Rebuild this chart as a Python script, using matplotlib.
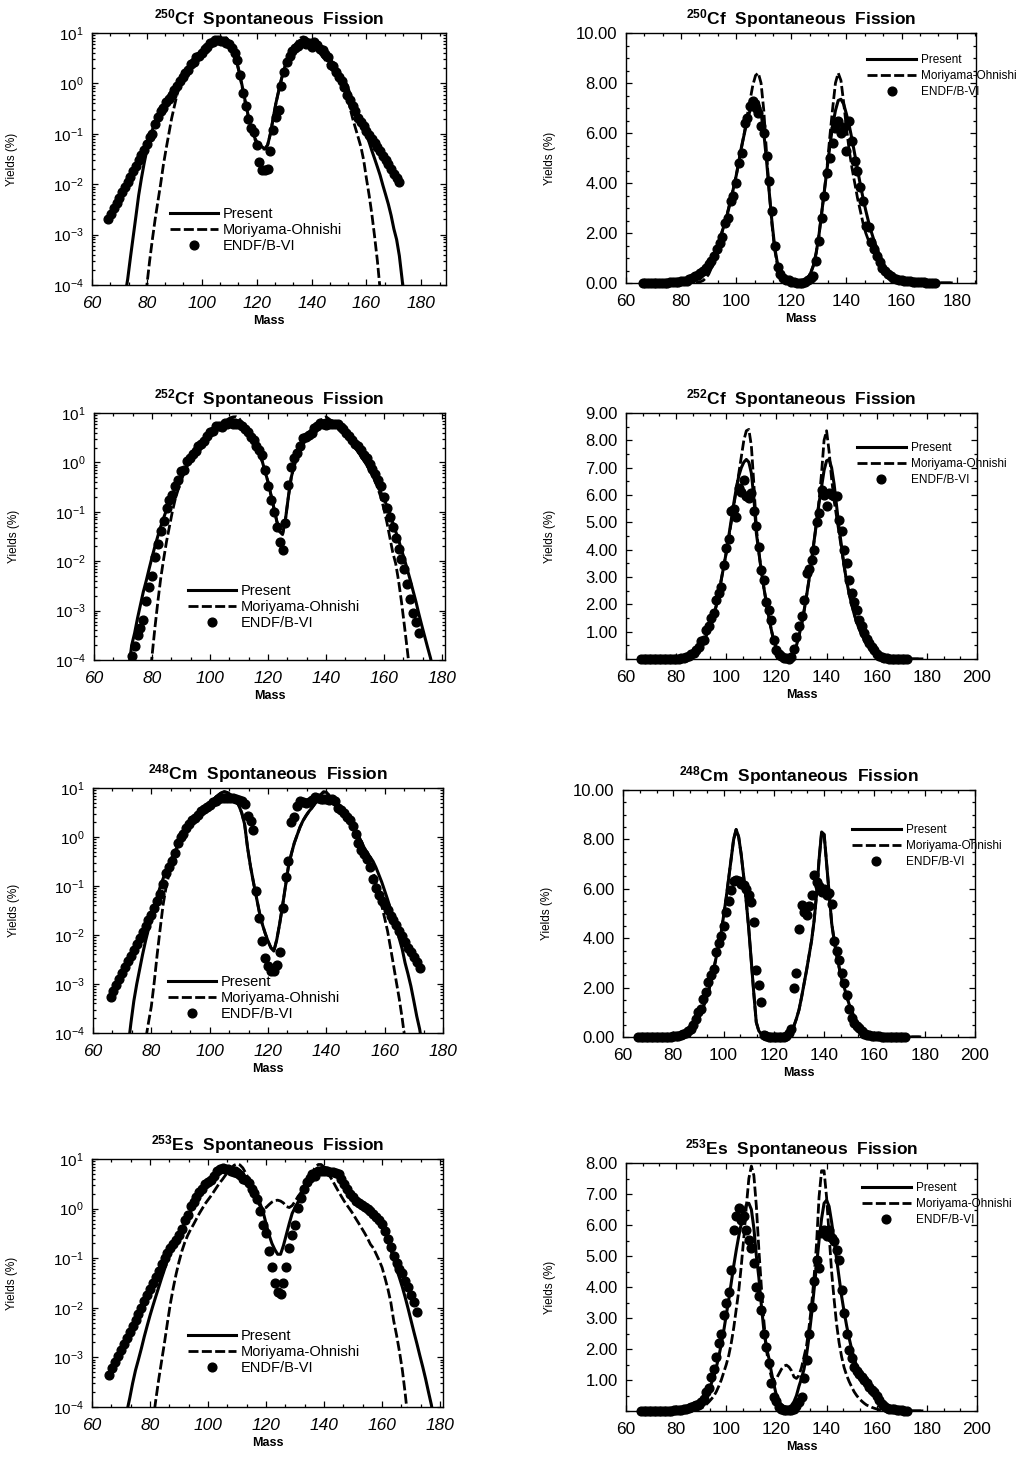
import numpy as np
import matplotlib
matplotlib.use("Agg")
import matplotlib.pyplot as plt
from matplotlib.ticker import AutoMinorLocator, MultipleLocator, LogLocator, NullFormatter

plt.rcParams["font.family"] = "Liberation Sans"
plt.rcParams["mathtext.fontset"] = "custom"
plt.rcParams["mathtext.rm"] = "Liberation Sans"
plt.rcParams["mathtext.bf"] = "Liberation Sans:bold"
plt.rcParams["mathtext.it"] = "Liberation Sans:italic"

# masses: curves are tabulated 66..178, ENDF/B-VI points 66..172
mass_curve = np.arange(66, 179)
mass_endf = np.arange(66, 173)

# ---------------- Cf-250 ----------------
cf250_present = [
    1e-7, 3e-7, 1e-6, 3e-6, 1e-5, 2.5e-5, 6e-5, 1.3e-4, 3.5e-4, 9e-4,
    2.3e-3, 6e-3, 0.013, 0.026, 0.048, 0.08, 0.12, 0.17, 0.23, 0.3,
    0.38, 0.47, 0.58, 0.7, 0.85, 1.0, 1.2, 1.45, 1.75, 2.1,
    2.45, 2.85, 3.3, 3.8, 4.3, 4.9, 5.5, 6.0, 6.5, 6.9,
    7.2, 7.3, 7.25, 6.8, 6.0, 4.9, 3.6, 2.4, 1.4, 0.75,
    0.4, 0.22, 0.13, 0.09, 0.07, 0.06, 0.055, 0.05, 0.06, 0.1,
    0.2, 0.4, 0.7, 1.2, 1.9, 2.8, 3.7, 4.6, 5.5, 6.3,
    6.9, 7.3, 7.35, 7.15, 6.75, 6.3, 5.75, 5.15, 4.55, 3.95,
    3.4, 2.9, 2.45, 2.05, 1.7, 1.4, 1.12, 0.9, 0.62, 0.46,
    0.34, 0.25, 0.18, 0.13, 0.095, 0.068, 0.046, 0.032, 0.022, 0.015,
    0.0095, 0.0062, 0.004, 0.0024, 0.0013, 8e-4, 3.8e-4, 1.3e-4, 4e-5, 1.2e-5,
    3e-6, 1e-6, 3e-7]
cf250_mo = [
    1e-9, 1e-9, 1e-9, 1e-9, 1e-9, 1e-9, 1e-9, 1e-9, 1e-8, 1e-8,
    1e-7, 1e-6, 5e-6, 2.5e-5,
    1e-4, 3e-4, 8e-4, 2e-3, 4.5e-3, 0.01, 0.024, 0.05, 0.1, 0.2,
    0.35, 0.6, 0.95, 1.3, 1.7, 2.1, 2.5, 2.9, 3.35, 3.8,
    4.3, 4.85, 5.45, 6.05, 6.7, 7.3, 7.9, 8.3, 8.4, 8.0,
    6.9, 5.2, 3.6, 2.3, 1.3, 0.7, 0.38, 0.21, 0.12, 0.085,
    0.065, 0.055, 0.05, 0.05, 0.06, 0.1, 0.2, 0.4, 0.7, 1.2,
    1.9, 2.8, 3.7, 4.7, 5.9, 7.0, 8.0, 8.4, 8.1, 7.2,
    6.2, 5.3, 4.6, 4.0, 3.4, 2.9, 2.4, 2.0, 1.7, 1.45,
    1.25, 1.05, 0.85, 0.55, 0.33, 0.2, 0.13, 0.085, 0.055, 0.03,
    0.013, 6e-3, 2.5e-3, 9e-4, 3e-4, 8e-5, 2e-5, 5e-6, 1e-6, 1e-7,
    1e-9, 1e-9, 1e-9, 1e-9, 1e-9, 1e-9, 1e-9, 1e-9, 1e-9]
cf250_endf = [
    0.002, 0.0026, 0.0033, 0.0042, 0.0054, 0.0069, 0.0088, 0.011, 0.014, 0.018,
    0.023, 0.03, 0.038, 0.048, 0.062, 0.085, 0.1, 0.16, 0.22, 0.28,
    0.32, 0.42, 0.5, 0.6, 0.75, 0.9, 1.1, 1.35, 1.6, 1.85,
    2.4, 2.6, 3.3, 3.5, 4.0, 4.8, 5.2, 6.4, 6.6, 7.1,
    7.3, 7.0, 6.8, 6.3, 6.0, 5.1, 4.1, 2.9, 1.5, 0.65,
    0.35, 0.2, 0.13, 0.11, 0.06, 0.027, 0.019, 0.019, 0.02, 0.045,
    0.12, 0.22, 0.3, 0.9, 1.7, 2.6, 3.5, 4.4, 5.0, 5.6,
    6.2, 6.5, 6.0, 6.25, 5.3, 6.5, 5.7, 4.9, 4.5, 3.85,
    3.3, 2.3, 2.25, 1.65, 1.35, 1.1, 0.85, 0.6, 0.47, 0.36,
    0.28, 0.21, 0.17, 0.14, 0.115, 0.095, 0.08, 0.066, 0.055, 0.045,
    0.037, 0.03, 0.025, 0.02, 0.016, 0.013, 0.011]

# ---------------- Cf-252 ----------------
cf252_present = [
    1e-9, 1e-8, 1e-7, 5e-7, 2e-6, 1.5e-5, 7e-5, 2e-4, 3.5e-4, 7e-4,
    1.3e-3, 2.4e-3, 4e-3, 7e-3, 0.012, 0.02, 0.032, 0.05, 0.075, 0.11,
    0.16, 0.22, 0.3, 0.39, 0.5, 0.63, 0.85, 1.05, 1.3, 1.6,
    1.95, 2.4, 2.9, 3.4, 3.9, 4.5, 5.1, 5.7, 6.25, 6.7,
    7.0, 7.2, 7.3, 7.2, 6.8, 5.9, 4.6, 3.9, 3.2, 2.6,
    2.05, 1.5, 1.05, 0.65, 0.4, 0.22, 0.12, 0.065, 0.04, 0.035,
    0.07, 0.2, 0.5, 0.85, 1.25, 1.75, 2.3, 2.9, 3.6, 4.3,
    5.0, 5.7, 6.3, 6.9, 7.25, 7.3, 7.0, 6.4, 5.6, 4.8,
    4.1, 3.4, 2.85, 2.4, 2.0, 1.65, 1.35, 1.1, 0.9, 0.7,
    0.55, 0.42, 0.32, 0.24, 0.18, 0.13, 0.09, 0.06, 0.04, 0.027,
    0.017, 0.011, 0.0068, 0.0042, 0.0025, 0.0015, 8.5e-4, 5e-4, 3e-4, 1.8e-4,
    1.1e-4, 6e-5, 3e-5]
cf252_mo = [
    1e-9, 1e-9, 1e-9, 1e-9, 1e-9, 1e-9, 1e-9, 1e-9, 1e-9, 1e-9,
    1e-8, 1e-7, 2e-6, 3e-5,
    1.2e-4, 4.5e-4, 1.5e-3, 4.5e-3, 0.011, 0.025, 0.05, 0.1, 0.18, 0.28,
    0.42, 0.6, 0.82, 1.05, 1.3, 1.6, 1.95, 2.4, 2.9, 3.4,
    3.9, 4.45, 5.0, 5.6, 6.2, 6.8, 7.4, 8.0, 8.35, 8.4,
    7.8, 6.4, 4.8, 3.9, 3.2, 2.6, 2.05, 1.5, 1.05, 0.65,
    0.4, 0.22, 0.12, 0.065, 0.04, 0.035, 0.07, 0.2, 0.5, 0.85,
    1.25, 1.75, 2.3, 2.9, 3.6, 4.3, 5.0, 5.8, 6.8, 8.0,
    8.35, 7.6, 6.6, 5.8, 5.2, 4.6, 4.0, 3.4, 2.85, 2.4,
    2.0, 1.65, 1.35, 1.1, 0.9, 0.7, 0.55, 0.4, 0.28, 0.19,
    0.11, 0.06, 0.03, 0.015, 0.009, 0.004, 1.5e-3, 5e-4, 1.6e-4, 5e-5,
    1e-9, 1e-9, 1e-9, 1e-9, 1e-9, 1e-9, 1e-9, 1e-9, 1e-9]
cf252_endf = [
    1e-6, 2e-6, 4e-6, 8e-6, 1.5e-5, 3e-5, 6e-5, 1.2e-4, 1.9e-4, 3.2e-4,
    4.5e-4, 6.5e-4, 1.6e-3, 3e-3, 5e-3, 0.012, 0.022, 0.04, 0.065, 0.12,
    0.17, 0.22, 0.34, 0.45, 0.66, 0.7, 1.05, 1.2, 1.5, 1.68,
    2.17, 2.4, 2.65, 3.45, 4.06, 4.4, 5.4, 5.5, 5.2, 6.26,
    6.1, 6.56, 5.95, 5.9, 6.07, 5.4, 4.85, 4.1, 3.27, 2.9,
    2.1, 1.8, 1.44, 0.7, 0.34, 0.17, 0.1, 0.05, 0.025, 0.017,
    0.06, 0.35, 0.8, 1.2, 1.56, 2.17, 3.15, 3.3, 3.63, 4.0,
    5.0, 5.35, 6.2, 6.0, 5.6, 6.07, 6.0, 5.95, 5.95, 5.1,
    4.67, 4.0, 3.5, 2.9, 2.4, 2.1, 1.8, 1.44, 1.2, 0.95,
    0.75, 0.59, 0.45, 0.34, 0.2, 0.12, 0.08, 0.05, 0.03, 0.018,
    0.011, 0.007, 0.0035, 0.0017, 9e-4, 6e-4, 3.5e-4]

# ---------------- Cm-248 ----------------
cm248_present = [
    1e-9, 1e-8, 1e-7, 5e-7, 3e-6, 1e-5, 5e-5, 1.6e-4, 4.5e-4, 1e-3,
    2e-3, 4e-3, 7.5e-3, 0.013, 0.022, 0.037, 0.06, 0.095, 0.14, 0.2,
    0.28, 0.38, 0.5, 0.65, 0.82, 1.0, 1.25, 1.5, 1.85, 2.25,
    2.7, 3.2, 3.7, 4.2, 4.9, 5.6, 6.4, 7.2, 8.0, 8.4,
    8.1, 7.4, 6.5, 5.5, 4.4, 3.1, 1.8, 0.6, 0.25, 0.12,
    0.06, 0.03, 0.017, 0.011, 0.0075, 0.0055, 0.0047, 0.008, 0.017, 0.04,
    0.1, 0.25, 0.45, 0.75, 1.1, 1.6, 2.15, 2.7, 3.3, 3.9,
    4.7, 5.8, 7.2, 8.3, 8.2, 7.0, 5.8, 4.6, 3.9, 3.3,
    2.8, 2.35, 2.0, 1.65, 1.3, 1.05, 0.8, 0.6, 0.48, 0.39,
    0.32, 0.24, 0.17, 0.12, 0.08, 0.053, 0.034, 0.022, 0.014, 0.0085,
    0.0052, 0.0027, 0.0016, 9e-4, 4.5e-4, 2.2e-4, 1.2e-4, 5e-5, 1.5e-5, 4e-6,
    1e-6, 2e-7, 1e-8]
cm248_mo = [
    1e-9, 1e-9, 1e-9, 1e-9, 1e-9, 1e-9, 1e-9, 1e-9, 1e-9, 1e-9,
    1e-7, 5e-6, 7e-5, 1.6e-4, 3.5e-4, 1.1e-3, 4e-3, 0.013, 0.04, 0.09,
    0.17, 0.29, 0.44, 0.65, 0.82, 1.0, 1.25, 1.5, 1.85, 2.25,
    2.7, 3.2, 3.7, 4.2, 4.9, 5.6, 6.4, 7.2, 8.0, 8.4,
    8.1, 7.4, 6.5, 5.5, 4.4, 3.1, 1.8, 0.6, 0.25, 0.12,
    0.06, 0.03, 0.017, 0.011, 0.0075, 0.0055, 0.0047, 0.008, 0.017, 0.04,
    0.1, 0.25, 0.45, 0.75, 1.1, 1.6, 2.15, 2.7, 3.3, 3.9,
    4.7, 5.8, 7.2, 8.3, 8.2, 7.0, 5.8, 4.6, 3.9, 3.3,
    2.8, 2.35, 2.0, 1.65, 1.3, 1.05, 0.8, 0.6, 0.45, 0.3,
    0.2, 0.12, 0.07, 0.04, 0.022, 0.012, 5.5e-3, 2.5e-3, 1.1e-3, 5e-4,
    2e-4, 7e-5, 2e-5, 5e-6, 1e-9, 1e-9, 1e-9, 1e-9, 1e-9, 1e-9,
    1e-9, 1e-9, 1e-9]
cm248_endf = [
    5.5e-4, 7.2e-4, 9.5e-4, 1.25e-3, 1.65e-3, 2.2e-3, 2.9e-3, 3.8e-3, 5e-3, 6.6e-3,
    8.7e-3, 0.0115, 0.015, 0.02, 0.026, 0.035, 0.05, 0.07, 0.11, 0.18,
    0.24, 0.33, 0.47, 0.74, 1.0, 1.15, 1.55, 1.82, 2.23, 2.5,
    2.77, 3.45, 3.8, 4.1, 4.5, 5.07, 5.5, 5.95, 6.3, 6.35,
    6.3, 6.2, 6.15, 6.0, 5.74, 5.47, 4.66, 2.7, 2.1, 1.42,
    0.078, 0.022, 0.0074, 0.0034, 0.0023, 0.0018, 0.0018, 0.0025, 0.0046, 0.036,
    0.15, 0.32, 2.0, 2.6, 4.39, 5.34, 5.07, 4.93, 5.3, 5.74,
    6.55, 6.28, 6.1, 5.88, 6.0, 5.74, 5.85, 5.4, 3.9, 3.5,
    3.1, 2.6, 2.2, 1.7, 1.15, 0.75, 0.55, 0.45, 0.35, 0.25,
    0.14, 0.09, 0.065, 0.05, 0.04, 0.032, 0.025, 0.02, 0.016, 0.012,
    0.0095, 0.0072, 0.0055, 0.0045, 0.0035, 0.0028, 0.0021]

# ---------------- Es-253 ----------------
es253_present = [
    1e-8, 1e-7, 5e-7, 2e-6, 6e-6, 2.5e-5, 8e-5, 1.5e-4, 3e-4, 5.5e-4,
    9e-4, 1.5e-3, 2.6e-3, 4.3e-3, 7e-3, 0.011, 0.017, 0.026, 0.04, 0.06,
    0.09, 0.13, 0.18, 0.24, 0.31, 0.4, 0.52, 0.68, 0.88, 1.1,
    1.4, 1.75, 2.15, 2.6, 3.1, 3.6, 4.15, 4.7, 5.2, 5.65,
    6.05, 6.4, 6.65, 6.7, 6.5, 5.9, 5.0, 4.3, 3.4, 2.6,
    2.05, 1.7, 1.25, 0.85, 0.5, 0.3, 0.2, 0.15, 0.12, 0.12,
    0.18, 0.3, 0.5, 0.8, 1.05, 1.35, 1.8, 2.4, 3.1, 3.9,
    4.7, 5.5, 6.2, 6.7, 6.8, 6.6, 6.1, 5.5, 4.9, 4.3,
    3.7, 3.2, 2.75, 2.35, 2.0, 1.7, 1.45, 1.22, 1.05, 0.95,
    0.85, 0.75, 0.66, 0.58, 0.5, 0.36, 0.24, 0.15, 0.095, 0.06,
    0.04, 0.026, 0.016, 0.0095, 0.0055, 0.0032, 0.0019, 0.0011, 6.5e-4, 3.7e-4,
    2e-4, 1.1e-4, 5e-5]
es253_mo = [
    1e-9, 1e-9, 1e-9, 1e-9, 1e-9, 1e-9, 1e-9, 1e-9, 1e-9, 1e-9,
    1e-8, 1e-7, 1e-6, 5e-6, 2e-5, 5e-5, 1.4e-4, 3.6e-4, 8.5e-4, 2e-3,
    5e-3, 0.012, 0.025, 0.048, 0.085, 0.14, 0.21, 0.29, 0.38, 0.48,
    0.62, 0.8, 1.0, 1.25, 1.5, 1.8, 2.2, 2.7, 3.3, 3.9,
    4.7, 5.6, 6.6, 7.5, 7.9, 7.6, 6.6, 5.2, 4.0, 2.9,
    2.0, 1.4, 1.1, 1.0, 1.05, 1.2, 1.35, 1.45, 1.48, 1.42,
    1.3, 1.1, 1.05, 1.15, 1.4, 1.75, 2.1, 2.7, 3.4, 4.3,
    5.4, 6.9, 7.75, 7.75, 6.9, 5.7, 4.5, 3.6, 2.8, 2.2,
    1.75, 1.4, 1.15, 0.95, 0.78, 0.62, 0.5, 0.4, 0.32, 0.25,
    0.19, 0.16, 0.12, 0.09, 0.065, 0.04, 0.024, 0.013, 5.5e-3, 2.8e-3,
    1.3e-3, 5.5e-4, 1.8e-4, 5e-5, 1e-5,
    1e-9, 1e-9, 1e-9, 1e-9, 1e-9, 1e-9, 1e-9, 1e-9]
es253_endf = [
    4.5e-4, 6e-4, 8e-4, 1.05e-3, 1.4e-3, 1.85e-3, 2.5e-3, 3.3e-3, 4.3e-3, 5.7e-3,
    7.6e-3, 0.01, 0.0135, 0.018, 0.024, 0.031, 0.042, 0.056, 0.075, 0.1,
    0.13, 0.16, 0.19, 0.23, 0.3, 0.38, 0.6, 0.75, 1.11, 1.35,
    1.75, 2.2, 2.5, 3.1, 3.48, 3.85, 4.55, 5.85, 6.28, 6.54,
    6.17, 6.28, 5.85, 5.52, 5.25, 4.77, 4.0, 3.7, 3.26, 2.5,
    2.08, 1.54, 0.89, 0.46, 0.32, 0.14, 0.068, 0.032, 0.021, 0.019,
    0.032, 0.068, 0.16, 0.3, 0.46, 1.05, 1.65, 2.5, 3.37, 4.18,
    4.88, 4.6, 5.74, 5.85, 5.63, 5.85, 5.58, 5.47, 5.2, 4.88,
    3.91, 3.15, 2.5, 1.97, 1.7, 1.43, 1.3, 1.2, 1.1, 1.0,
    0.9, 0.78, 0.68, 0.6, 0.5, 0.35, 0.24, 0.17, 0.11, 0.08,
    0.06, 0.05, 0.035, 0.026, 0.018, 0.013, 0.0083]

nuclides = [("250", "Cf"), ("252", "Cf"), ("248", "Cm"), ("253", "Es")]
present_sets = [cf250_present, cf252_present, cm248_present, es253_present]
mo_sets = [cf250_mo, cf252_mo, cm248_mo, es253_mo]
endf_sets = [cf250_endf, cf252_endf, cm248_endf, es253_endf]

W, H = 1027, 1461
fig = plt.figure(figsize=(W / 100, H / 100), dpi=100)


def pixel_axes(l, t, r, b):
    return fig.add_axes([l / W, 1 - b / H, (r - l) / W, (b - t) / H])


# pixel boxes (left, top, right, bottom) of every panel
left_boxes = [(92, 33, 446, 285), (94, 413, 445, 660), (93, 788, 443, 1033), (92, 1159, 443, 1407)]
right_boxes = [(626, 33, 976, 283), (626, 413, 977, 659), (623, 790, 975, 1037), (626, 1163, 977, 1411)]
left_xmax = [189, 181, 180, 181]
right_xmax = [187, 200, 200, 200]
right_ymax = [10, 9, 10, 8]
right_ystart = [0, 1, 0, 1]
left_leg = [(0.22, 0.31), (0.268, 0.308), (0.214, 0.237), (0.273, 0.315)]
right_leg = [(0.69, 0.915), (0.658, 0.881), (0.65, 0.862), (0.672, 0.923)]


def draw_data(ax, i, clip):
    ax.plot(mass_curve, present_sets[i], color="black", lw=2.2, label="Present")
    ax.plot(mass_curve, mo_sets[i], color="black", lw=2.0, dashes=(3.6, 1.2),
            label="Moriyama-Ohnishi")
    ax.plot(mass_endf, endf_sets[i], "o", color="black", ms=6.3, ls="none",
            label="ENDF/B-VI", clip_on=clip)


def common_style(ax, title):
    ax.set_title(title, fontsize=12.5, fontweight="bold", pad=6)
    ax.tick_params(which="both", direction="in", top=True, right=True, width=0.9)
    ax.tick_params(which="major", length=4.5)
    ax.tick_params(which="minor", length=2.3)
    ax.tick_params(axis="x", pad=8)
    ax.tick_params(axis="y", labelsize=11, pad=6)
    for sp in ax.spines.values():
        sp.set_linewidth(1.0)
    ax.xaxis.set_minor_locator(AutoMinorLocator(3))
    ax.set_xlabel("Mass", fontsize=9, fontweight="bold", labelpad=3)
    ax.set_ylabel("Yields (%)", fontsize=8.5)


for i, (a, sym) in enumerate(nuclides):
    title = r"$^{\mathbf{" + a + r"}}$" + sym + "  Spontaneous  Fission"

    # log panel
    ax = pixel_axes(*left_boxes[i])
    draw_data(ax, i, True)
    ax.set_yscale("log")
    ax.set_ylim(1e-4, 10)
    ax.set_xlim(60, left_xmax[i])
    ax.yaxis.set_major_locator(LogLocator(base=10, numticks=10))
    ax.yaxis.set_minor_locator(LogLocator(base=10, subs=np.arange(2, 10), numticks=20))
    ax.yaxis.set_minor_formatter(NullFormatter())
    common_style(ax, title)
    xt = np.arange(60, 181, 20)
    ax.set_xticks(xt, labels=[str(v) for v in xt], fontstyle="italic", fontsize=12.5)
    ax.yaxis.set_label_coords(-0.21, 0.5)
    ax.legend(loc="upper left", bbox_to_anchor=left_leg[i], frameon=False, fontsize=10.5,
              handlelength=3.3, handletextpad=0.3, labelspacing=0.15, borderpad=0,
              borderaxespad=0, numpoints=1)

    # linear panel
    ax = pixel_axes(*right_boxes[i])
    draw_data(ax, i, False)
    ax.set_ylim(0, right_ymax[i])
    ax.set_xlim(60, right_xmax[i])
    common_style(ax, title)
    xt = np.arange(60, min(right_xmax[i], 200) + 1, 20)
    ax.set_xticks(xt, labels=[str(v) for v in xt], fontsize=12.5)
    step = 2 if right_ymax[i] == 10 else 1
    yt = np.arange(right_ystart[i] if step == 1 else 0, right_ymax[i] + 0.01, step)
    ax.set_yticks(yt, labels=["%.2f" % v for v in yt], fontsize=12)
    ax.yaxis.set_minor_locator(MultipleLocator(0.5))
    ax.yaxis.set_label_coords(-0.2, 0.5)
    ax.legend(loc="upper left", bbox_to_anchor=right_leg[i], frameon=False, fontsize=8.5,
              handlelength=4.15, handletextpad=0.4, labelspacing=0.33, borderpad=0,
              borderaxespad=0, numpoints=1)

fig.savefig("out.png", dpi=100)
